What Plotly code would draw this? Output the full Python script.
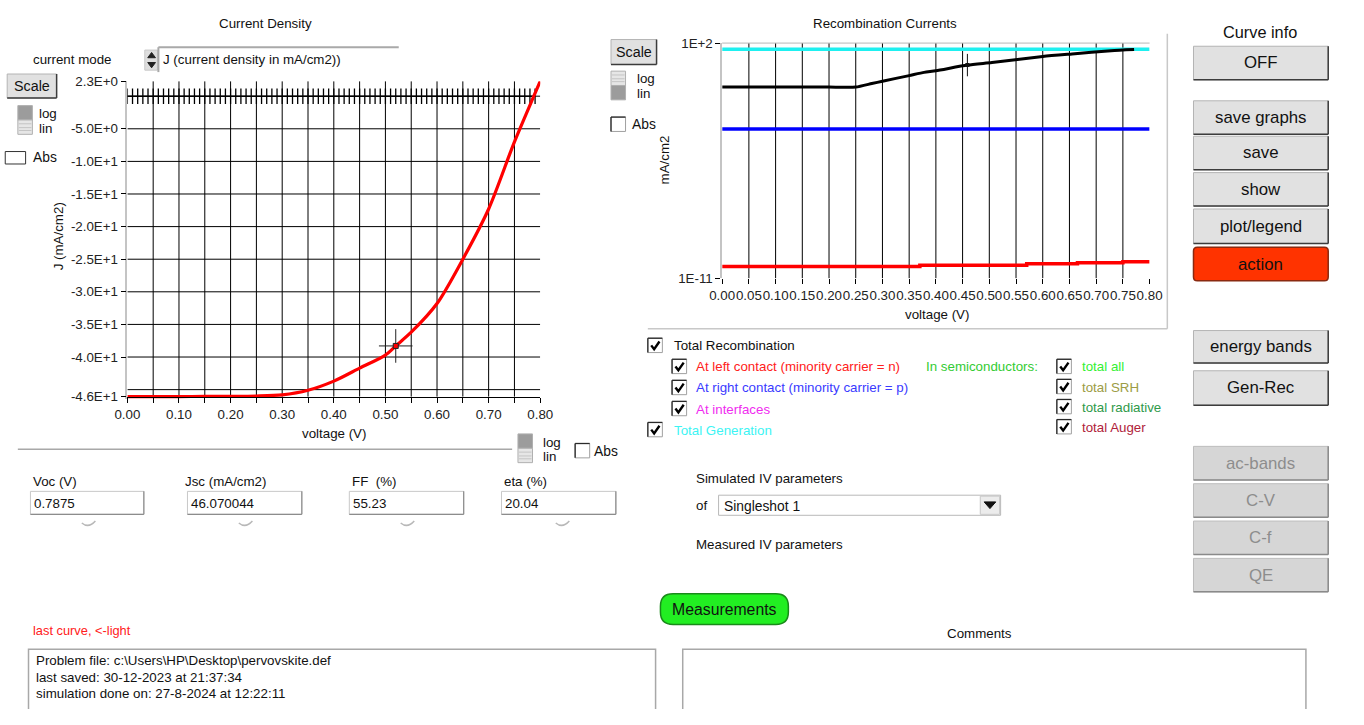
import plotly.graph_objects as go

# ---------------- data ----------------
# Illuminated J-V curve
jv_voltage = [0.00, 0.05, 0.10, 0.15, 0.20, 0.25, 0.30, 0.35, 0.40, 0.45, 0.50,
              0.52, 0.55, 0.60, 0.65, 0.70, 0.75, 0.7875, 0.80]
jv_current = [-46.07, -46.07, -46.06, -46.05, -46.03, -45.98, -45.80, -45.10, -43.70,
              -41.70, -39.70, -38.30, -36.20, -31.80, -25.00, -17.30, -7.00, 0.00, 2.30]

# Dark curve (sits on J = 0 over the whole sweep)
dark_voltage = [0.00, 0.01, 0.02, 0.03, 0.04, 0.05, 0.06, 0.07, 0.08, 0.09,
                0.10, 0.11, 0.12, 0.13, 0.14, 0.15, 0.16, 0.17, 0.18, 0.19,
                0.20, 0.21, 0.22, 0.23, 0.24, 0.25, 0.26, 0.27, 0.28, 0.29,
                0.30, 0.31, 0.32, 0.33, 0.34, 0.35, 0.36, 0.37, 0.38, 0.39,
                0.40, 0.41, 0.42, 0.43, 0.44, 0.45, 0.46, 0.47, 0.48, 0.49,
                0.50, 0.51, 0.52, 0.53, 0.54, 0.55, 0.56, 0.57, 0.58, 0.59,
                0.60, 0.61, 0.62, 0.63, 0.64, 0.65, 0.66, 0.67, 0.68, 0.69,
                0.70, 0.71, 0.72, 0.73, 0.74, 0.75, 0.76, 0.77, 0.78, 0.79]
dark_current = [0.0] * 80

# Working-point cursors
jv_cursor_v, jv_cursor_j = 0.52, -38.30
rec_cursor_v, rec_cursor_j = 0.459, 6.07

# Recombination / generation currents (mA/cm2)
gen_voltage = [0.00, 0.80]
gen_current = [46.07, 46.07]
right_contact_voltage = [0.00, 0.80]
right_contact_current = [1.8e-3, 1.8e-3]
left_contact_voltage = [0.00, 0.37, 0.57, 0.665, 0.75, 0.80]
left_contact_current = [4.5e-11, 5.2e-11, 6.2e-11, 7.1e-11, 8.0e-11, 8.0e-11]
total_rec_voltage = [0.00, 0.05, 0.10, 0.15, 0.20, 0.25, 0.28, 0.30, 0.35, 0.378,
                     0.40, 0.459, 0.505, 0.60, 0.655, 0.728, 0.771]
total_rec_current = [0.368, 0.368, 0.368, 0.368, 0.368, 0.368, 0.578, 0.78, 1.59, 2.40,
                     2.92, 6.07, 8.43, 18.2, 25.2, 37.8, 43.7]

# Axis ticks
jv_xticks = [0.00, 0.05, 0.10, 0.15, 0.20, 0.25, 0.30, 0.35, 0.40, 0.45, 0.50,
             0.55, 0.60, 0.65, 0.70, 0.75, 0.80]
jv_xticktext = ["0.00", "", "0.10", "", "0.20", "", "0.30", "", "0.40", "",
                "0.50", "", "0.60", "", "0.70", "", "0.80"]
jv_yticks = [2.3, -5, -10, -15, -20, -25, -30, -35, -40, -46.07]
jv_yticktext = ["2.3E+0", "-5.0E+0", "-1.0E+1", "-1.5E+1", "-2.0E+1", "-2.5E+1",
                "-3.0E+1", "-3.5E+1", "-4.0E+1", "-4.6E+1"]
jv_ygrid = [0, -5, -10, -15, -20, -25, -30, -35, -40, -45]
jv_xgrid = [0.05, 0.10, 0.15, 0.20, 0.25, 0.30, 0.35, 0.40, 0.45, 0.50,
            0.55, 0.60, 0.65, 0.70, 0.75]
rec_xticks = jv_xticks
rec_xticktext = ["0.00", "0.05", "0.10", "0.15", "0.20", "0.25", "0.30", "0.35", "0.40",
                 "0.45", "0.50", "0.55", "0.60", "0.65", "0.70", "0.75", "0.80"]
rec_yticks = [1e-11, 1e2]
rec_yticktext = ["1E-11", "1E+2"]

# IV parameters
iv_labels = ["Voc (V)", "Jsc (mA/cm2)", "FF  (%)", "eta (%)"]
iv_values = ["0.7875", "46.070044", "55.23", "20.04"]

# ---------------- page helpers ----------------
# The panel is laid out on a 1364 x 725 grid (positions below are in those
# units) and drawn into a figure that fits the window together with the
# page's default 8 px body margin.
GRID_W, GRID_H = 1364, 725
W, H = GRID_W - 16, GRID_H - 16
FS = W / GRID_W
FONT = "Liberation Sans"
shapes, annotations = [], []


def px(x):
    return x / GRID_W


def py(y):
    return 1 - y / GRID_H


def text(x, y, s, size=13.5, color="#111", anchor="left", angle=0):
    annotations.append(dict(x=px(x), y=py(y), xref="paper", yref="paper", text=s,
                            showarrow=False, xanchor=anchor, yanchor="middle",
                            textangle=angle, borderpad=0,
                            font=dict(size=size * FS, color=color, family=FONT)))


def rect(x0, y0, x1, y1, fill=None, line=None, width=1):
    shapes.append(dict(type="rect", xref="paper", yref="paper",
                       x0=px(x0), x1=px(x1), y0=py(y1), y1=py(y0),
                       fillcolor=fill or "rgba(0,0,0,0)",
                       line=dict(color=line or "rgba(0,0,0,0)", width=width)))


def seg(x0, y0, x1, y1, color, width=1):
    shapes.append(dict(type="line", xref="paper", yref="paper",
                       x0=px(x0), x1=px(x1), y0=py(y0), y1=py(y1),
                       line=dict(color=color, width=width)))


def path(points, color, width=1, fill=None, closed=False):
    d = "M" + " L".join(f"{px(x):.5f},{py(y):.5f}" for x, y in points)
    if closed:
        d += " Z"
    shapes.append(dict(type="path", xref="paper", yref="paper", path=d,
                       line=dict(color=color, width=width),
                       fillcolor=fill or "rgba(0,0,0,0)"))


def rounded(x0, y0, x1, y1, r, fill, line, width=1):
    p = lambda x, y: f"{px(x):.5f},{py(y):.5f}"
    d = (f"M{p(x0 + r, y0)} L{p(x1 - r, y0)} Q{p(x1, y0)} {p(x1, y0 + r)} "
         f"L{p(x1, y1 - r)} Q{p(x1, y1)} {p(x1 - r, y1)} L{p(x0 + r, y1)} "
         f"Q{p(x0, y1)} {p(x0, y1 - r)} L{p(x0, y0 + r)} Q{p(x0, y0)} {p(x0 + r, y0)} Z")
    shapes.append(dict(type="path", xref="paper", yref="paper", path=d,
                       fillcolor=fill, line=dict(color=line, width=width)))


def button(x0, y0, x1, y1, label, fill="#e1e1e1", tcolor="#111", size=17):
    rect(x0, y0, x1, y1, fill=fill, line="#b4b4b4")
    seg(x0, y1, x1, y1, "#3c3c3c", 1.5)
    seg(x1, y0, x1, y1, "#3c3c3c", 1.5)
    text((x0 + x1) / 2, (y0 + y1) / 2, label, size=size, color=tcolor, anchor="center")


def checkbox(x, y, checked=True):
    rect(x, y, x + 15, y + 15, fill="white", line="#a0a0a0")
    seg(x, y, x + 15, y, "#2a2a2a", 1.3)
    seg(x, y, x, y + 15, "#2a2a2a", 1.3)
    if checked:
        path([(x + 3.5, y + 7.5), (x + 6.5, y + 11.5), (x + 12, y + 3.5)], "#000", 2.4)


def toggle(x, y, top_dark):
    dark, light = "#9c9c9c", "#e6e6e6"
    rect(x, y, x + 15, y + 15, fill=dark if top_dark else light, line="#b0b0b0")
    rect(x, y + 15, x + 15, y + 30, fill=light if top_dark else dark, line="#b0b0b0")
    ly = y + 15 if top_dark else y
    for k in (4, 8, 11):
        seg(x + 1, ly + k, x + 14, ly + k, "#c4c4c4", 1)


def hook(x, y):
    shapes.append(dict(type="path", xref="paper", yref="paper",
                       path=f"M{px(x - 7):.5f},{py(y - 1):.5f} Q{px(x):.5f},{py(y + 5):.5f} "
                            f"{px(x + 7):.5f},{py(y - 3):.5f}",
                       line=dict(color="#b8b8b8", width=1.5)))


# ---------------- figure ----------------
fig = go.Figure()

# J-V panel traces
fig.add_trace(go.Scatter(x=dark_voltage, y=dark_current, mode="lines+markers",
                         line=dict(color="black", width=1.5),
                         marker=dict(symbol="line-ns", size=11, color="black",
                                     line=dict(color="black", width=1.3)),
                         xaxis="x", yaxis="y", hoverinfo="skip"))
fig.add_trace(go.Scatter(x=jv_voltage, y=jv_current, mode="lines",
                         line=dict(color="#ff0000", width=3.2, shape="spline", smoothing=0.8),
                         xaxis="x", yaxis="y"))
fig.add_trace(go.Scatter(x=[jv_cursor_v], y=[jv_cursor_j], mode="markers",
                         marker=dict(symbol="cross-thin", size=24,
                                     line=dict(color="#222", width=1)),
                         xaxis="x", yaxis="y"))
fig.add_trace(go.Scatter(x=[jv_cursor_v], y=[jv_cursor_j], mode="markers",
                         marker=dict(symbol="square", size=5, color="#ff0000",
                                     line=dict(color="#222", width=1)),
                         xaxis="x", yaxis="y"))

# Recombination panel traces
fig.add_trace(go.Scatter(x=gen_voltage, y=gen_current, mode="lines",
                         line=dict(color="#1ef0f0", width=3.5), xaxis="x2", yaxis="y2"))
fig.add_trace(go.Scatter(x=right_contact_voltage, y=right_contact_current, mode="lines",
                         line=dict(color="#0000ff", width=3.5), xaxis="x2", yaxis="y2"))
fig.add_trace(go.Scatter(x=left_contact_voltage, y=left_contact_current, mode="lines",
                         line=dict(color="#ff0000", width=3.5, shape="hv"),
                         xaxis="x2", yaxis="y2"))
fig.add_trace(go.Scatter(x=total_rec_voltage, y=total_rec_current, mode="lines",
                         line=dict(color="#000000", width=3, shape="spline", smoothing=0.6),
                         xaxis="x2", yaxis="y2"))
fig.add_trace(go.Scatter(x=[rec_cursor_v], y=[rec_cursor_j], mode="markers",
                         marker=dict(symbol="line-ns", size=16,
                                     line=dict(color="#111", width=1)),
                         xaxis="x2", yaxis="y2"))
fig.add_trace(go.Scatter(x=[rec_cursor_v], y=[rec_cursor_j], mode="markers",
                         marker=dict(symbol="square", size=4, color="#111"),
                         xaxis="x2", yaxis="y2"))

# Gridlines (drawn under the traces)
for v in jv_xgrid:
    shapes.append(dict(type="line", xref="x", yref="y", x0=v, x1=v, y0=-46.07, y1=2.3,
                       layer="below", line=dict(color="black", width=1)))
for j in jv_ygrid:
    shapes.append(dict(type="line", xref="x", yref="y", x0=0, x1=0.8, y0=j, y1=j,
                       layer="below", line=dict(color="black", width=1)))
for v in jv_xgrid:
    shapes.append(dict(type="line", xref="x2", yref="y2 domain", x0=v, x1=v, y0=0, y1=1,
                       layer="below", line=dict(color="black", width=1)))
seg(731.7, 37.7, 1172.7, 37.7, "#b8b8b8", 1)

tickfont = dict(size=13.5 * FS, color="#222", family=FONT)
fig.update_layout(
    width=W, height=H, autosize=False,
    margin=dict(l=0, r=0, t=0, b=0),
    paper_bgcolor="white", plot_bgcolor="white",
    showlegend=False,
    xaxis=dict(domain=[px(118), px(544)], range=[0, 0.8], anchor="free", position=py(407),
               tickmode="array", tickvals=jv_xticks, ticktext=jv_xticktext,
               ticks="outside", ticklen=5, tickcolor="black", tickfont=tickfont,
               tickangle=0, showgrid=False, zeroline=False,
               showline=True, linecolor="black", linewidth=1),
    yaxis=dict(domain=[py(410), py(77.5)], range=[-46.51, 2.3], anchor="x",
               tickmode="array", tickvals=jv_yticks, ticktext=jv_yticktext,
               ticks="outside", ticklen=5, tickcolor="black", tickfont=tickfont,
               showgrid=False, zeroline=False,
               showline=True, linecolor="#c4c4c4", linewidth=1.5),
    xaxis2=dict(domain=[px(731.7), px(1172.7)], range=[0, 0.8], anchor="y2",
                tickmode="array", tickvals=rec_xticks, ticktext=rec_xticktext,
                ticks="outside", ticklen=5, tickcolor="black", tickfont=tickfont,
                tickangle=0, showgrid=False, zeroline=False, showline=False),
    yaxis2=dict(domain=[py(283.3), py(37.7)], type="log", range=[-11, 2], anchor="x2",
                tickmode="array", tickvals=rec_yticks, ticktext=rec_yticktext,
                ticks="outside", ticklen=5, tickcolor="black", tickfont=tickfont,
                showgrid=False, zeroline=False,
                showline=True, linecolor="#c4c4c4", linewidth=1.5),
)

# ---------------- J-V panel widgets ----------------
text(261, 17, "Current Density", anchor="center")
text(20, 55, "current mode")
rect(136, 45, 149, 66, fill="#dedede", line="#c8c8c8")
path([(139, 53), (143, 47.5), (147, 53)], "#222", 1, fill="#222", closed=True)
path([(139, 58), (143, 63.5), (147, 58)], "#222", 1, fill="#222", closed=True)
seg(150, 42, 398, 42, "#a9a9a9", 2)
seg(150, 42, 150, 68, "#a9a9a9", 2)
text(154, 55, "J (current density in mA/cm2))")
button(-6, 70, 45, 95, "Scale", size=14.5)
toggle(5, 103, top_dark=True)
text(26, 111, "log")
text(26, 127, "lin")
rect(-8, 151, 13, 164, fill="white", line="#333")
text(20, 157, "Abs", size=14)
text(47, 240, "J (mA/cm2)", anchor="center", angle=-90)
text(331, 446, "voltage (V)", anchor="center")

seg(5, 462, 515, 462, "#a8a8a8", 1.5)
toggle(521, 446, top_dark=True)
text(546, 455, "log")
text(546, 470, "lin")
checkbox(580, 456, checked=False)
text(598, 464, "Abs", size=14)

iv_label_x = [20, 176, 349, 506]
iv_box = [(18, 135), (180, 298), (347, 465), (504, 622)]
iv_hook_x = [78, 240, 407, 567]
for lab, val, lx, (b0, b1), hx in zip(iv_labels, iv_values, iv_label_x, iv_box, iv_hook_x):
    text(lx, 496, lab)
    rect(b0, 506, b1, 530, fill="white", line="#c8c8c8")
    seg(b0, 530, b1, 530, "#8c8c8c", 1.2)
    seg(b1, 506, b1, 530, "#8c8c8c", 1.2)
    text(b0 + 3, 519, val)
    hook(hx, 540)

# ---------------- recombination panel widgets ----------------
text(900, 17, "Recombination Currents", anchor="center")
button(617, 34, 664, 60, "Scale", size=14.5)
toggle(617, 67, top_dark=False)
text(643, 75, "log")
text(643, 90, "lin")
checkbox(617, 115, checked=False)
text(638, 122, "Abs", size=14)
text(672, 160, "mA/cm2", anchor="center", angle=-90)
text(953, 321, "voltage (V)", anchor="center")
seg(1191, 28, 1191, 336, "#c8c8c8", 1.5)
seg(655, 336, 1191, 336, "#c8c8c8", 1.5)

# curve selection
checkbox(655, 346)
text(681, 354, "Total Recombination")
checkbox(680, 368)
text(704, 376, "At left contact (minority carrier = n)", color="#ff2020")
checkbox(680, 390)
text(704, 398, "At right contact (minority carrier = p)", color="#3a3aff")
checkbox(680, 412)
text(704, 420, "At interfaces", color="#f02cf0")
checkbox(655, 434)
text(681, 442, "Total Generation", color="#3cf4f4")
text(941, 376, "In semiconductors:", color="#33cc33")
right_items = [("total all", "#33f033"), ("total SRH", "#9c9c45"),
               ("total radiative", "#2f9a4a"), ("total Auger", "#b0223a")]
for k, (lab, col) in enumerate(right_items):
    yy = 368 + k * 21
    checkbox(1077, yy)
    text(1102, yy + 8, lab, color=col)

# simulated / measured IV parameters
text(704, 493, "Simulated IV parameters")
text(704, 521, "of")
rect(728, 510, 1019, 531, fill="white", line="#b8b8b8")
rect(998, 511, 1018, 530, fill="#ececec", line="#c8c8c8")
path([(1002, 517), (1014, 517), (1008, 524)], "#111", 1, fill="#111", closed=True)
text(733, 521, "Singleshot 1", size=14)
text(704, 561, "Measured IV parameters")

# ---------------- right-hand button column ----------------
text(1287, 26, "Curve info", size=16.5, anchor="center")
button(1218, 41, 1357, 76, "OFF")
button(1218, 98, 1357, 133, "save graphs")
button(1218, 135, 1357, 170, "save")
button(1218, 173, 1357, 208, "show")
button(1218, 211, 1357, 247, "plot/legend")
rounded(1218, 251, 1357, 286, 4, "#ff3300", "#8a2a10", 1.5)
text(1287.5, 268.5, "action", size=17, anchor="center")
button(1218, 338, 1357, 372, "energy bands")
button(1218, 380, 1357, 416, "Gen-Rec")
for (y0, y1), lab in zip([(459, 494), (498, 533), (537, 572), (576, 611)],
                         ["ac-bands", "C-V", "C-f", "QE"]):
    rect(1218, y0, 1357, y1, fill="#d6d6d6", line="#bdbdbd")
    seg(1218, y1, 1357, y1, "#8a8a8a", 1.5)
    seg(1357, y0, 1357, y1, "#8a8a8a", 1.5)
    text(1287.5, (y0 + y1) / 2, lab, size=17, color="#8d8d8d", anchor="center")

# ---------------- bottom area ----------------
rounded(668, 613, 800, 645, 13, "#22ee22", "#1a8a1a", 1.5)
text(734, 629.5, "Measurements", size=16, anchor="center")
text(20, 651, "last curve, <-light", color="#ff2020", size=13)
rect(16, 671, 663, 740, fill="white", line="#a8a8a8", width=1.5)
text(23, 683, "Problem file: c:\\Users\\HP\\Desktop\\pervovskite.def")
text(23, 700, "last saved: 30-12-2023 at 21:37:34")
text(23, 717, "simulation done on: 27-8-2024 at 12:22:11")
text(997, 655, "Comments", anchor="center")
rect(691, 671, 1334, 740, fill="white", line="#a8a8a8", width=1.5)

fig.update_layout(shapes=shapes, annotations=annotations)
fig.write_html("out.html", config={"displayModeBar": False})
